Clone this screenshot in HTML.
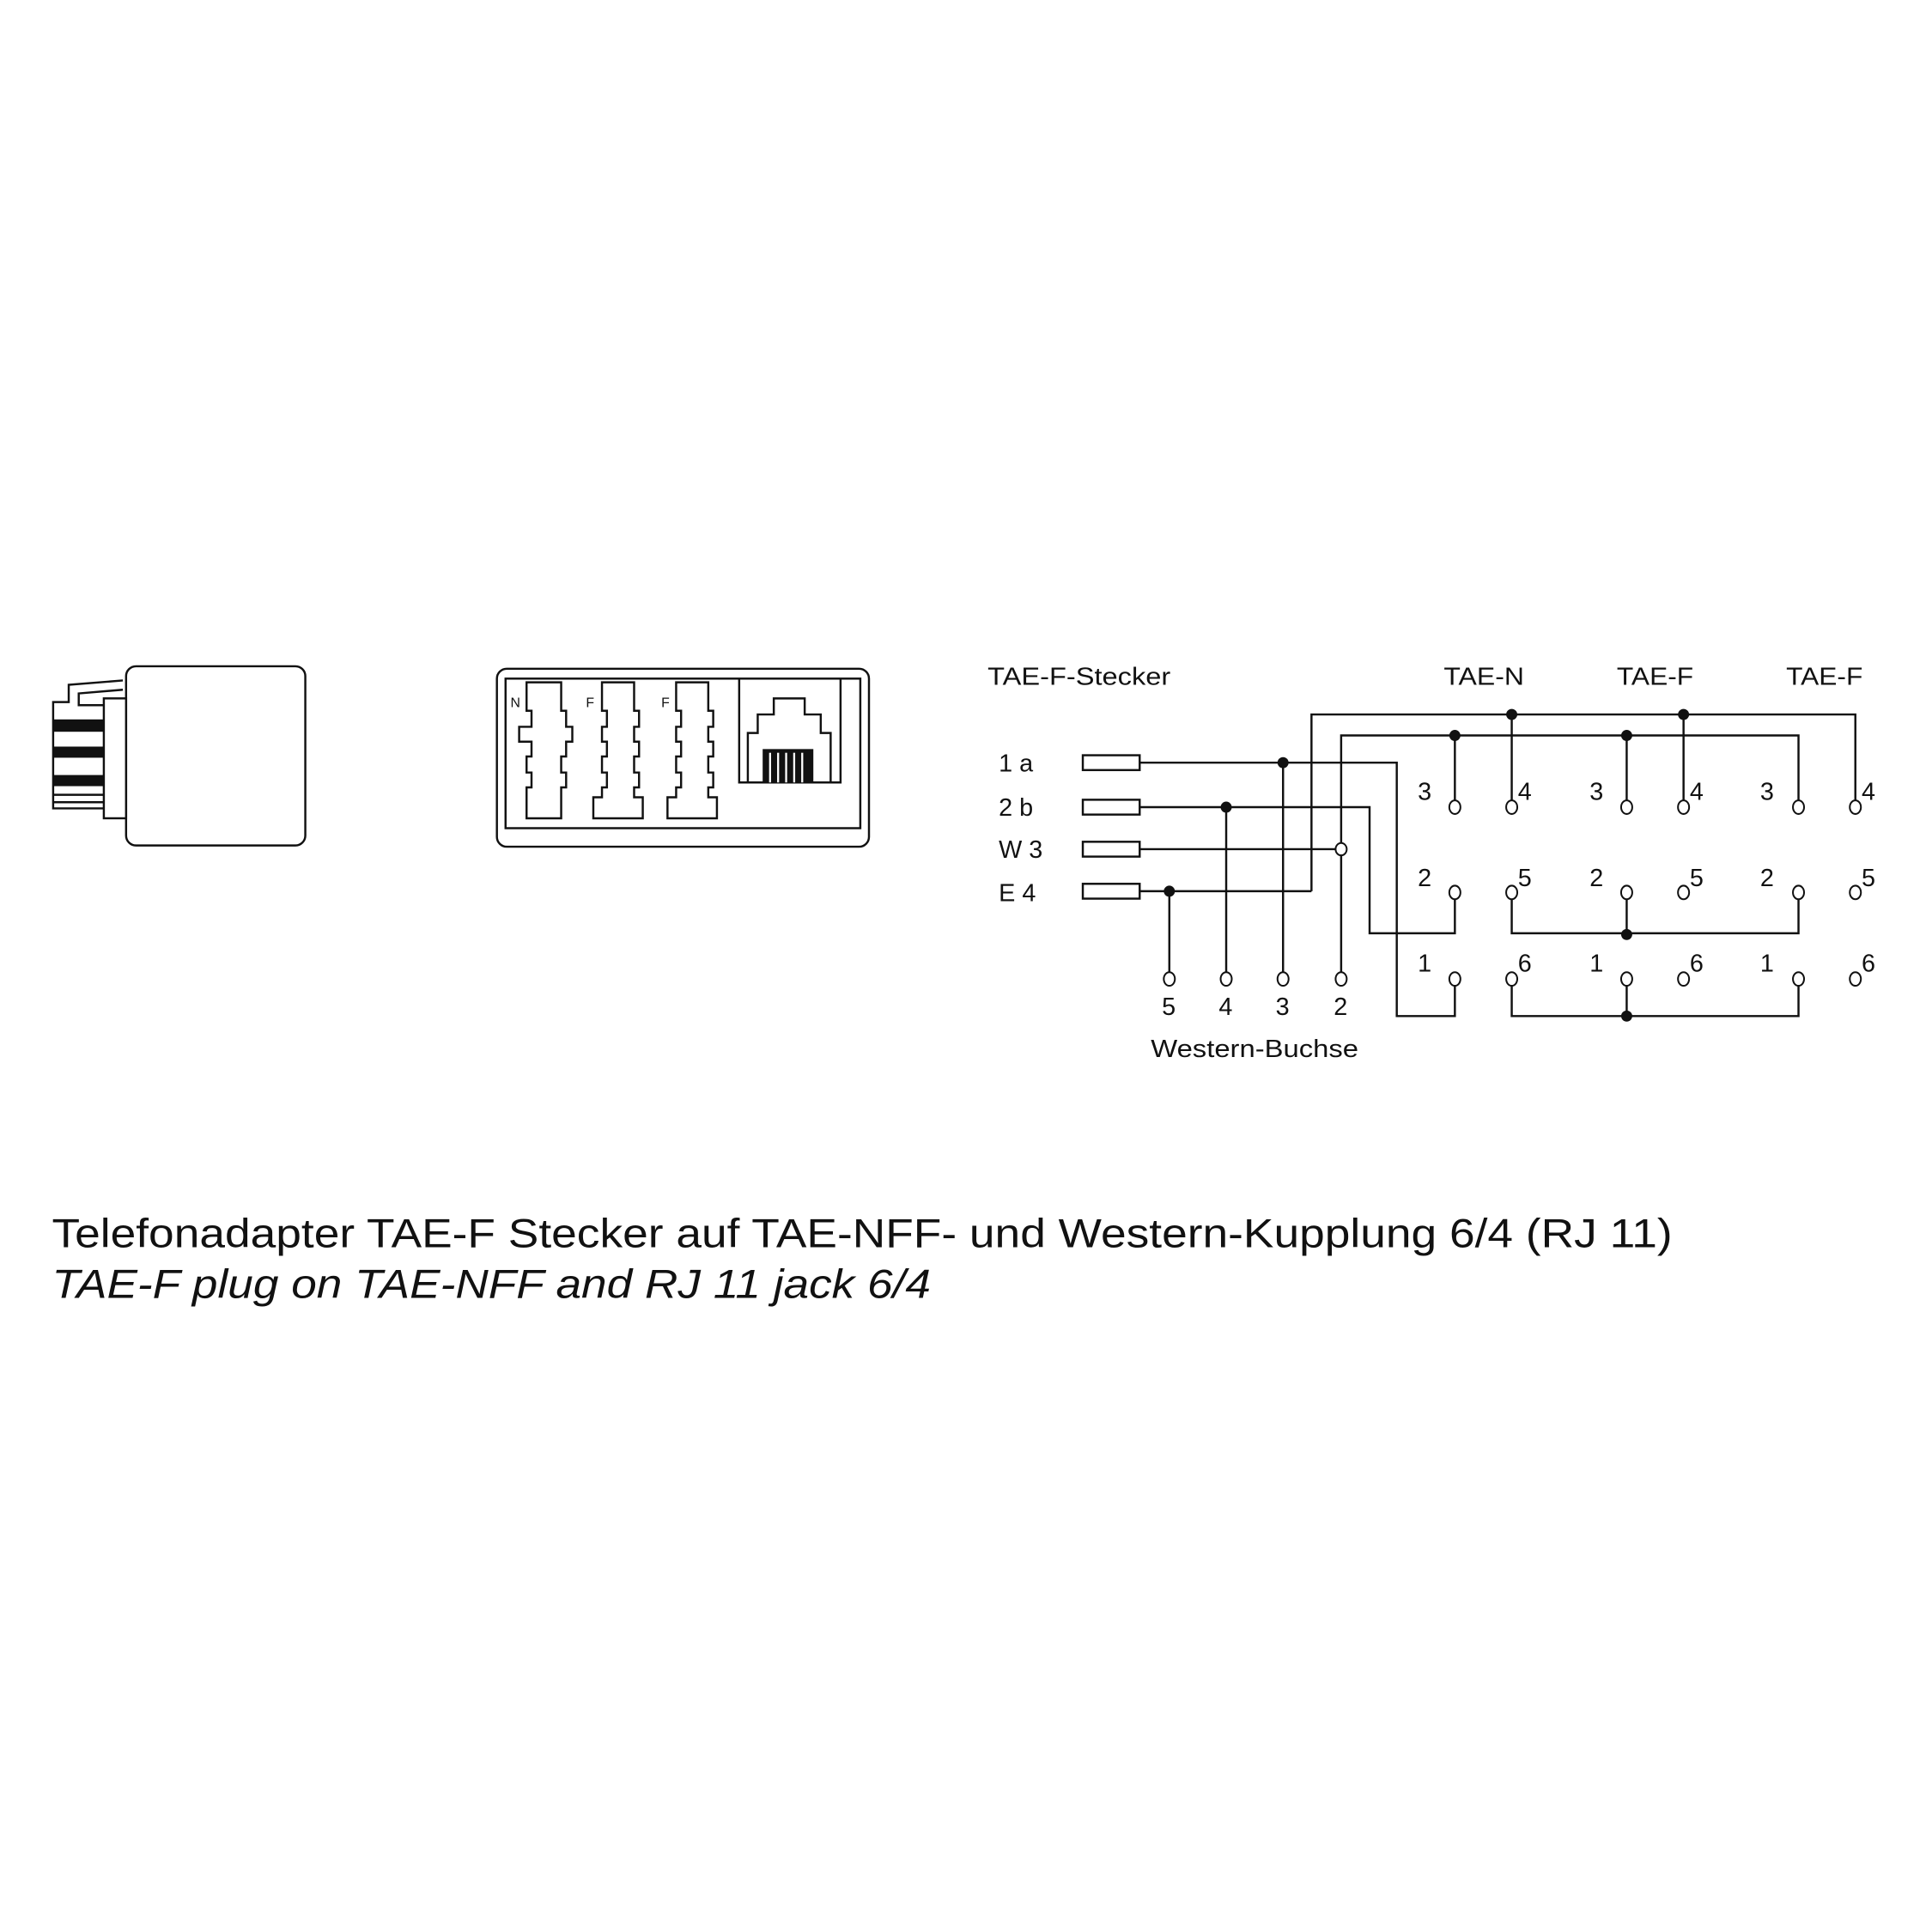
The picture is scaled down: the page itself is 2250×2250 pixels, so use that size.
<!DOCTYPE html>
<html><head><meta charset="utf-8"><style>
html,body{margin:0;padding:0;background:#fff;}
svg{display:block}
text{font-family:"Liberation Sans",sans-serif;fill:#111}
</style></head><body>
<svg width="2250" height="2250" viewBox="0 0 1563 1563" xmlns="http://www.w3.org/2000/svg">
<rect width="1563" height="1563" fill="#fff"/>
<g fill="none" stroke="#111" stroke-width="1.7">
<rect x="102" y="539" width="145" height="145" rx="8"/>
<rect x="84" y="565" width="18" height="97" fill="#fff"/>
<path d="M84 654 H43 V568 H55.6 V554 L99.4 550.5"/>
<path d="M84 570.5 H63.7 V561 L99.4 558"/>
<line x1="43" y1="643" x2="84" y2="643"/>
<line x1="43" y1="649" x2="84" y2="649"/>
</g>
<g fill="#111">
<rect x="43" y="582" width="41" height="10"/>
<rect x="43" y="604" width="41" height="9"/>
<rect x="43" y="627" width="41" height="9"/>
</g>
<g fill="none" stroke="#111" stroke-width="1.7">
<rect x="402" y="541" width="301" height="144" rx="8"/>
<rect x="409" y="549" width="287" height="121"/>
<path d="M426 552 V575 H430 V588 H420 V600 H430 V612 H426 V625 H430 V637 H426 V662 H454 V637 H458 V625 H454 V612 H458 V600 H463 V588 H458 V575 H454 V552 Z"/>
<path d="M487 552 V575 H491 V588 H487 V600 H491 V612 H487 V625 H491 V637 H487 V645 H480 V662 H520 V645 H513 V637 H517 V625 H513 V612 H517 V600 H513 V588 H517 V575 H513 V552 Z"/>
<path d="M547 552 V575 H551 V588 H547 V600 H551 V612 H547 V625 H551 V637 H547 V645 H540 V662 H580 V645 H573 V637 H577 V625 H573 V612 H577 V600 H573 V588 H577 V575 H573 V552 Z"/>
<path d="M598 549 V633 H680 V549"/>
<path d="M605 633 V593 H613 V578 H626 V565 H651 V578 H664 V593 H672 V633"/>
</g>
<g fill="#111">
<rect x="617" y="606" width="41" height="27"/>
</g>
<g stroke="#fff" stroke-width="1.6">
<line x1="623" y1="609" x2="623" y2="633"/><line x1="629.5" y1="609" x2="629.5" y2="633"/>
<line x1="636" y1="609" x2="636" y2="633"/><line x1="642.5" y1="609" x2="642.5" y2="633"/>
<line x1="649" y1="609" x2="649" y2="633"/>
</g>
<text x="413" y="572" font-size="11">N</text>
<text x="474" y="572" font-size="11">F</text>
<text x="535" y="572" font-size="11">F</text>

<g font-size="20">
<text x="799" y="554" textLength="148" lengthAdjust="spacingAndGlyphs">TAE-F-Stecker</text>
<text x="1168" y="554" textLength="65" lengthAdjust="spacingAndGlyphs">TAE-N</text>
<text x="1308" y="554" textLength="62" lengthAdjust="spacingAndGlyphs">TAE-F</text>
<text x="1445" y="554" textLength="62" lengthAdjust="spacingAndGlyphs">TAE-F</text>
<text x="808" y="624">1 a</text>
<text x="808" y="660">2 b</text>
<text x="808" y="694">W 3</text>
<text x="808" y="729">E 4</text>
<text x="940" y="821">5</text><text x="986" y="821">4</text><text x="1032" y="821">3</text><text x="1079" y="821">2</text>
<text x="931" y="855" textLength="168" lengthAdjust="spacingAndGlyphs">Western-Buchse</text>
<g>
<text x="1147" y="647">3</text><text x="1228" y="647">4</text>
<text x="1286" y="647">3</text><text x="1367" y="647">4</text>
<text x="1424" y="647">3</text><text x="1506" y="647">4</text>
<text x="1147" y="717">2</text><text x="1228" y="717">5</text>
<text x="1286" y="717">2</text><text x="1367" y="717">5</text>
<text x="1424" y="717">2</text><text x="1506" y="717">5</text>
<text x="1147" y="786">1</text><text x="1228" y="786">6</text>
<text x="1286" y="786">1</text><text x="1367" y="786">6</text>
<text x="1424" y="786">1</text><text x="1506" y="786">6</text>
</g>
</g>
<g fill="none" stroke="#111" stroke-width="1.7">
<rect x="876" y="611" width="46" height="12"/>
<rect x="876" y="647" width="46" height="12"/>
<rect x="876" y="681" width="46" height="12"/>
<rect x="876" y="715" width="46" height="12"/>
<path d="M1061 721 V578 H1501 V648"/>
<path d="M1085 787 V595 H1455 V648"/>
<path d="M1177 595 V648 M1223 578 V648 M1316 595 V648 M1362 578 V648"/>
<path d="M922 617 H1130 V822 H1177 V797"/>
<path d="M922 653 H1108 V755 H1177 V727"/>
<path d="M922 687 H1081"/>
<path d="M922 721 H1061"/>
<path d="M946 721 V787 M992 653 V787 M1038 617 V787"/>
<path d="M1223 727 V755 H1455 V727 M1316 727 V755"/>
<path d="M1223 797 V822 H1455 V797 M1316 797 V822"/>
</g>
<g fill="#fff" stroke="#111" stroke-width="1.4">
<ellipse cx="1177" cy="653" rx="4.5" ry="5.5"/><ellipse cx="1223" cy="653" rx="4.5" ry="5.5"/>
<ellipse cx="1316" cy="653" rx="4.5" ry="5.5"/><ellipse cx="1362" cy="653" rx="4.5" ry="5.5"/>
<ellipse cx="1455" cy="653" rx="4.5" ry="5.5"/><ellipse cx="1501" cy="653" rx="4.5" ry="5.5"/>
<ellipse cx="1177" cy="722" rx="4.5" ry="5.5"/><ellipse cx="1223" cy="722" rx="4.5" ry="5.5"/>
<ellipse cx="1316" cy="722" rx="4.5" ry="5.5"/><ellipse cx="1362" cy="722" rx="4.5" ry="5.5"/>
<ellipse cx="1455" cy="722" rx="4.5" ry="5.5"/><ellipse cx="1501" cy="722" rx="4.5" ry="5.5"/>
<ellipse cx="1177" cy="792" rx="4.5" ry="5.5"/><ellipse cx="1223" cy="792" rx="4.5" ry="5.5"/>
<ellipse cx="1316" cy="792" rx="4.5" ry="5.5"/><ellipse cx="1362" cy="792" rx="4.5" ry="5.5"/>
<ellipse cx="1455" cy="792" rx="4.5" ry="5.5"/><ellipse cx="1501" cy="792" rx="4.5" ry="5.5"/>
<ellipse cx="946" cy="792" rx="4.5" ry="5.5"/><ellipse cx="992" cy="792" rx="4.5" ry="5.5"/>
<ellipse cx="1038" cy="792" rx="4.5" ry="5.5"/><ellipse cx="1085" cy="792" rx="4.5" ry="5.5"/>
<ellipse cx="1085" cy="687" rx="4.5" ry="5"/>
</g>
<g fill="#111">
<circle cx="1223" cy="578" r="4.5"/><circle cx="1362" cy="578" r="4.5"/>
<circle cx="1177" cy="595" r="4.5"/><circle cx="1316" cy="595" r="4.5"/>
<circle cx="1038" cy="617" r="4.5"/><circle cx="992" cy="653" r="4.5"/>
<circle cx="946" cy="721" r="4.5"/>
<circle cx="1316" cy="756" r="4.5"/><circle cx="1316" cy="822" r="4.5"/>
</g>
<text x="42" y="1009" font-size="33" textLength="1311" lengthAdjust="spacingAndGlyphs">Telefonadapter TAE-F Stecker auf TAE-NFF- und Western-Kupplung 6/4 (RJ 11)</text>
<text x="42" y="1050" font-size="33" font-style="italic" textLength="711" lengthAdjust="spacingAndGlyphs">TAE-F plug on TAE-NFF and RJ 11 jack 6/4</text>
</svg>
</body></html>
